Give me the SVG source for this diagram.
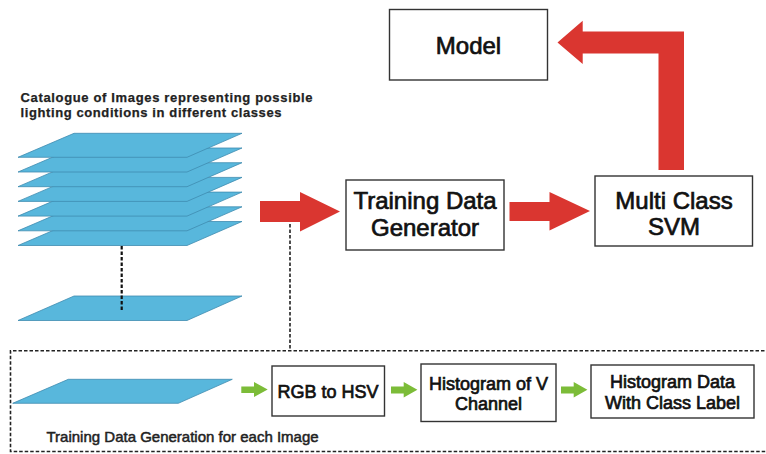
<svg xmlns="http://www.w3.org/2000/svg" width="766" height="454" viewBox="0 0 766 454">
<style>
  .box{fill:#fff;stroke:#333;stroke-width:1.4}
  .bt{font-family:"Liberation Sans",Arial,sans-serif;fill:#111;stroke:#111;stroke-width:0.7;text-anchor:middle}
  .big{font-size:24px}
  .sm{font-size:18px}
  .plane{fill:#58b7dc;stroke:#3f8cb0;stroke-width:0.8}
  .red{fill:#da3630}
  .green{fill:#7cbc38}
  .dash{fill:none;stroke:#222;stroke-width:1.6;stroke-dasharray:3.5 2}
  .vdash{fill:none;stroke:#111;stroke-width:2.2;stroke-dasharray:3.5 2}
  .cap{font-family:"Liberation Sans",Arial,sans-serif;fill:#222}
</style>
<rect width="766" height="454" fill="#fff"/>

<g id="catalogue">
  <text class="cap" x="20.5" y="102" font-size="13" font-weight="bold" stroke="#222" stroke-width="0.25" textLength="292" lengthAdjust="spacing">Catalogue of Images representing possible</text>
  <text class="cap" x="20.5" y="117" font-size="13" font-weight="bold" stroke="#222" stroke-width="0.25" textLength="261" lengthAdjust="spacing">lighting conditions in different classes</text>
  <polygon class="plane" points="74,221.5 242,221.5 187,245.5 18,245.5"/>
  <polygon class="plane" points="74,206.8 242,206.8 187,230.8 18,230.8"/>
  <polygon class="plane" points="74,192.1 242,192.1 187,216.1 18,216.1"/>
  <polygon class="plane" points="74,177.4 242,177.4 187,201.4 18,201.4"/>
  <polygon class="plane" points="74,162.7 242,162.7 187,186.7 18,186.7"/>
  <polygon class="plane" points="74,148 242,148 187,172 18,172"/>
  <polygon class="plane" points="74,133.3 242,133.3 187,157.3 18,157.3"/>
  <polygon class="plane" points="74,296 242,296 187,320.5 18,320.5"/>
</g>

<g id="tdg">
  <rect class="box" x="346" y="180" width="158" height="70"/>
  <text class="bt big" x="425" y="209">Training Data</text>
  <text class="bt big" x="425" y="236">Generator</text>
</g>

<g id="svm">
  <rect class="box" x="595" y="176" width="157.5" height="70"/>
  <text class="bt big" x="674" y="208.5">Multi Class</text>
  <text class="bt big" x="674" y="235">SVM</text>
</g>

<g id="model">
  <rect class="box" x="389.5" y="9.5" width="158" height="70.5"/>
  <text class="bt big" x="468.5" y="54">Model</text>
</g>

<g id="generation">
  <text class="cap" x="46.5" y="441.5" font-size="15" stroke="#222" stroke-width="0.5">Training Data Generation for each Image</text>
  <polygon class="plane" points="68.3,379.3 232.3,379.3 178.3,403.3 12.7,403.3"/>
</g>

<g id="rgb2hsv">
  <rect class="box" x="272" y="366" width="112.5" height="50"/>
  <text class="bt sm" x="328" y="397.5">RGB to HSV</text>
</g>

<g id="histv">
  <rect class="box" x="421" y="364" width="135" height="57.5"/>
  <text class="bt sm" x="488.5" y="390">Histogram of V</text>
  <text class="bt sm" x="488.5" y="410">Channel</text>
</g>

<g id="histdata">
  <rect class="box" x="591" y="365" width="163" height="53"/>
  <text class="bt sm" x="672.5" y="388">Histogram Data</text>
  <text class="bt sm" x="672.5" y="408.5">With Class Label</text>
</g>

<g id="connectors">
  <path class="red" d="M260,201 H300 V192 L340,211.5 L300,231.5 V222 H260 Z"/>
  <path class="red" d="M509.5,202 H549.5 V192 L590,211 L549.5,230.5 V221 H509.5 Z"/>
  <path class="red" d="M658.5,170 V53.5 H582.7 V64 L557.5,42.5 L582.7,20.7 V31.5 H684 V170 Z"/>
  <line class="vdash" x1="121.7" y1="246" x2="121.7" y2="312"/>
  <line class="dash" x1="290" y1="224" x2="290" y2="350.5"/>
  <path class="dash" d="M770,350.7 H10.5 V451.5 H770"/>
  <path class="green" d="M241.3,386.5 H254 V382 L267.7,389.5 L254,397 V393 H241.3 Z"/>
  <path class="green" d="M391,386.5 H403.7 V382 L417.4,389.8 L403.7,397.5 V393.5 H391 Z"/>
  <path class="green" d="M561,386.5 H573.7 V382 L587.4,389.8 L573.7,397.5 V393.5 H561 Z"/>
</g>
</svg>
